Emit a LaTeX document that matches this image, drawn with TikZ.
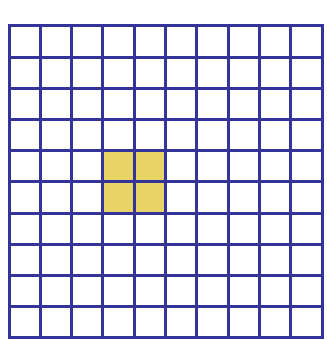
\documentclass[tikz,border=0pt]{standalone}
\usetikzlibrary{positioning}
\definecolor{gridblue}{HTML}{33339A}
\definecolor{cellyellow}{HTML}{E8D464}
\tikzset{gridline/.style={draw=gridblue, line width=0.09cm, line cap=rect},
         marked/.style={fill=cellyellow}}
\begin{document}
\begin{tikzpicture}[x=0.03cm, y=0.03cm]
\useasboundingbox (0, 0) rectangle (326, 340);
% marked cells
\fill[marked] (9+3*31.3, 2+4*31.2) rectangle (9+5*31.3, 2+6*31.2);
% grid
\foreach \i in {0,...,10} {
  \draw[gridline] (9+\i*31.3, 2)--(9+\i*31.3, 314) ;
  \draw[gridline] (9, 2+\i*31.2)--(322, 2+\i*31.2) ;
}
\end{tikzpicture}
\end{document}
